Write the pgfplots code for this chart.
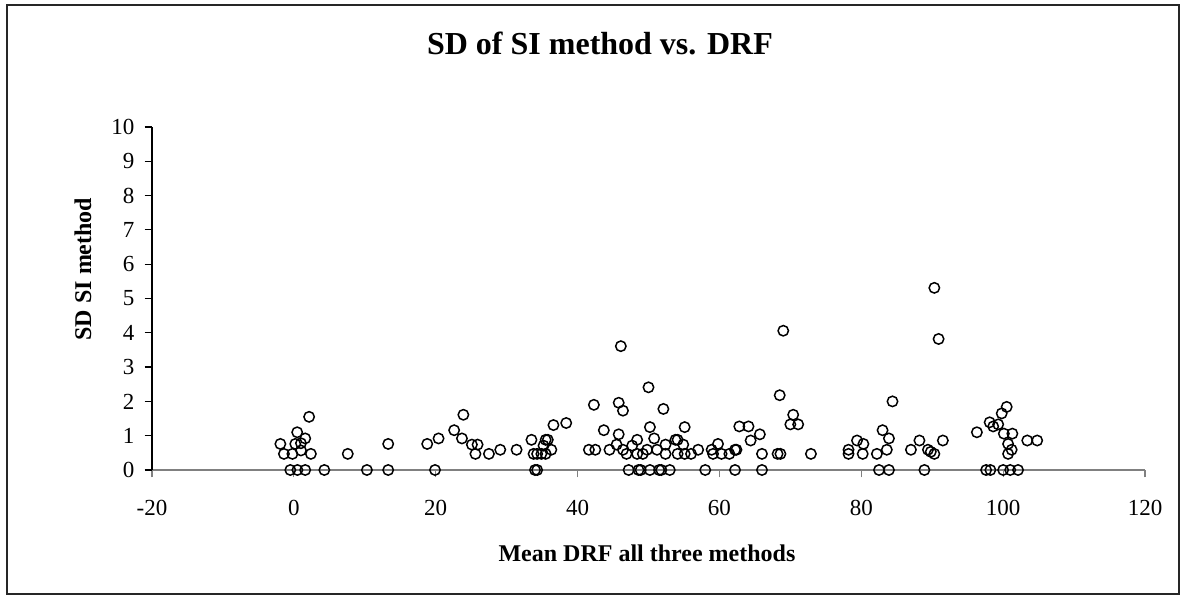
\documentclass[border=0pt]{standalone}
\usepackage{pgfplots}
\pgfplotsset{compat=1.18}
\usepackage{fontspec}
\setmainfont{Liberation Serif}

% Mean DRF (x) against SD of the SI method (y)
\pgfplotstableread{
x y
2.15 1.55
0.47 1.10
1.6 0.92
1.0 0.78
0.2 0.76
-1.9 0.76
-1.4 0.47
-0.2 0.47
1.0 0.57
2.4 0.47
-0.5 0
0.5 0
1.6 0
4.3 0
7.6 0.47
10.3 0
13.3 0.76
13.3 0
18.8 0.76
19.9 0
20.4 0.92
22.6 1.16
23.9 1.61
23.7 0.92
25.1 0.74
25.9 0.74
25.6 0.47
27.5 0.47
29.1 0.59
31.4 0.59
33.5 0.88
33.8 0.47
34.3 0.47
34.0 0
34.3 0
34.9 0.47
35.5 0.47
35.5 0.88
35.8 0.88
35.2 0.71
36.3 0.59
36.6 1.31
38.4 1.37
41.6 0.59
42.5 0.59
42.3 1.90
43.7 1.16
44.5 0.59
45.5 0.74
45.8 1.04
45.8 1.96
46.4 1.73
46.1 3.61
46.4 0.59
46.9 0.47
47.2 0
47.7 0.71
48.4 0.88
48.4 0.47
48.6 0
48.9 0
49.2 0.47
49.8 0.59
50.0 2.41
50.2 1.25
50.2 0
50.8 0.92
51.2 0.59
51.5 0
51.8 0
52.1 1.78
52.4 0.74
52.4 0.47
53.0 0
53.8 0.88
54.1 0.88
54.9 0.74
55.1 1.25
54.1 0.47
55.1 0.47
56.0 0.47
57.0 0.59
58.0 0
58.9 0.59
59.1 0.47
59.8 0.76
60.3 0.47
61.4 0.47
62.2 0.59
62.4 0.59
62.2 0
62.8 1.27
64.1 1.27
64.4 0.86
65.7 1.04
66.0 0.47
66.0 0
68.2 0.47
68.6 0.47
68.5 2.18
69.0 4.06
70.4 1.61
70.0 1.33
71.1 1.33
72.9 0.47
78.2 0.59
78.2 0.47
79.4 0.86
80.3 0.76
80.2 0.47
82.2 0.47
82.5 0
83.0 1.16
83.9 0.92
83.6 0.59
83.9 0
84.4 2.0
87.0 0.59
88.2 0.86
88.9 0
89.4 0.59
89.8 0.53
90.3 0.47
90.3 5.31
90.9 3.82
91.5 0.86
96.3 1.10
97.6 0
98.2 0
98.1 1.39
98.6 1.27
99.3 1.33
99.8 1.65
100.5 1.84
100.1 1.06
101.3 1.06
100.7 0.76
101.2 0.59
100.7 0.47
103.4 0.86
104.8 0.86
100.0 0
101.0 0
102.1 0
}\sddata

\begin{document}
\begin{tikzpicture}
  % page extent, chart frame and texts, laid out in half-point steps from the top left
  \begin{scope}[x=0.5pt,y=-0.5pt]
    \path (0,0) rectangle (1180,598);
    \draw[line width=1pt,black!85] (7,5) rectangle (1179,594);
    \node[font=\fontsize{16}{19}\selectfont\bfseries] at (600,43) {SD of SI method vs. DRF};
    \node[font=\fontsize{12}{14}\selectfont\bfseries] at (647,553) {Mean DRF all three methods};
    \node[font=\fontsize{12}{14}\selectfont\bfseries, rotate=90] at (83,269) {SD SI method};
  \end{scope}

  \begin{axis}[
    at={(76pt,-235pt)}, anchor=south west,
    scale only axis,
    width=496.5pt, height=171.5pt,
    xmin=-20, xmax=120, ymin=0, ymax=10,
    xtick={-20,0,...,120}, ytick={0,1,...,10},
    axis lines=left,
    axis line style={-},
    x axis line style={draw=black!50, line width=0.7pt},
    y axis line style={draw=black, line width=0.6pt},
    xtick style={draw=black!50, line width=0.6pt},
    ytick style={draw=black, line width=0.6pt},
    tick align=outside,
    major tick length=3.75pt,
    /pgf/number format/assume math mode=true,
    ticklabel style={font=\fontsize{11.5}{13}\selectfont},
    xticklabel style={yshift=-8pt},
    yticklabel style={xshift=-1.5pt},
    clip=false,
  ]
    \addplot[only marks, mark=o, mark size=2.6pt,
      mark options={line width=0.75pt, draw=black, fill=white}]
      table[x=x, y=y] {\sddata};
  \end{axis}
\end{tikzpicture}
\end{document}
